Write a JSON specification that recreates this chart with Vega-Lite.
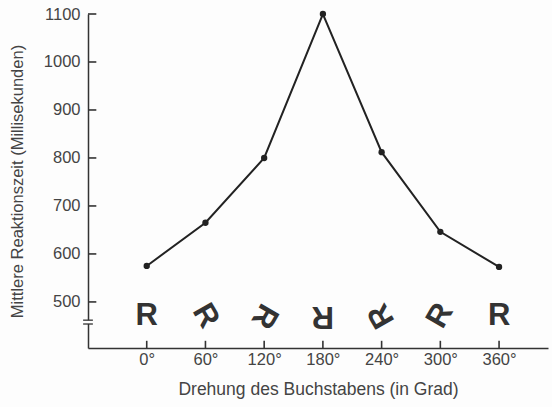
{
  "$schema": "https://vega.github.io/schema/vega-lite/v6.json",
  "autosize": {"type": "none"},
  "padding": {"left": 88, "top": 14, "right": 4, "bottom": 59},
  "width": 460,
  "height": 334,
  "background": "#fdfdfd",
  "config": {
    "view": {"stroke": null},
    "font": "Liberation Sans",
    "axis": {
      "domainColor": "#333333",
      "domainWidth": 1.5,
      "ticks": false,
      "labelColor": "#444444",
      "titleColor": "#444444",
      "labelFont": "Liberation Sans",
      "titleFont": "Liberation Sans",
      "labelFontSize": 16.5,
      "titleFontWeight": "normal",
      "grid": false
    }
  },
  "data": {
    "values": [
      {"grad": 0, "zeit": 575, "buchstabe": "R"},
      {"grad": 60, "zeit": 665, "buchstabe": "R"},
      {"grad": 120, "zeit": 800, "buchstabe": "R"},
      {"grad": 180, "zeit": 1100, "buchstabe": "R"},
      {"grad": 240, "zeit": 812, "buchstabe": "R"},
      {"grad": 300, "zeit": 646, "buchstabe": "R"},
      {"grad": 360, "zeit": 573, "buchstabe": "R"}
    ]
  },
  "layer": [
    {
      "mark": {"type": "line", "color": "#222222", "strokeWidth": 2},
      "encoding": {
        "x": {
          "field": "grad",
          "type": "quantitative",
          "scale": {"domain": [-60, 410], "nice": false, "zero": false},
          "axis": {
            "title": "Drehung des Buchstabens (in Grad)",
            "titleFontSize": 17.5,
            "values": [0, 60, 120, 180, 240, 300, 360],
            "labelExpr": "datum.value + '°'",
            "labelPadding": 3,
            "titlePadding": 13
          }
        },
        "y": {
          "field": "zeit",
          "type": "quantitative",
          "scale": {"domain": [404, 1100], "nice": false, "zero": false},
          "axis": {
            "title": "Mittlere Reaktionszeit (Millisekunden)",
            "titleFontSize": 16.5,
            "format": "d",
            "values": [500, 600, 700, 800, 900, 1000, 1100],
            "labelPadding": 8,
            "titlePadding": 18
          }
        }
      }
    },
    {
      "mark": {"type": "point", "filled": true, "color": "#222222", "size": 40, "opacity": 1},
      "encoding": {
        "x": {"field": "grad", "type": "quantitative"},
        "y": {"field": "zeit", "type": "quantitative"}
      }
    },
    {
      "mark": {"type": "rule", "color": "#333333", "strokeWidth": 1.6},
      "encoding": {
        "x": {"field": "grad", "type": "quantitative"},
        "y": {"datum": 404, "type": "quantitative"},
        "y2": {"datum": 419}
      }
    },
    {
      "data": {"values": [{"t": 500}, {"t": 600}, {"t": 700}, {"t": 800}, {"t": 900}, {"t": 1000}, {"t": 1100}]},
      "mark": {"type": "rule", "color": "#333333", "strokeWidth": 1.6},
      "encoding": {
        "x": {"datum": -60, "type": "quantitative"},
        "x2": {"datum": -51.5},
        "y": {"field": "t", "type": "quantitative"}
      }
    },
    {
      "mark": {"type": "text", "font": "Liberation Sans", "fontWeight": "bold", "fontSize": 31, "color": "#333333", "align": "center", "baseline": "middle"},
      "encoding": {
        "x": {"field": "grad", "type": "quantitative"},
        "y": {"datum": 471, "type": "quantitative"},
        "text": {"field": "buchstabe"},
        "angle": {"field": "grad", "type": "quantitative", "scale": null}
      }
    },
    {
      "data": {"values": [{"a": 1}]},
      "mark": {"type": "rule", "color": "#fdfdfd", "strokeWidth": 4},
      "encoding": {
        "x": {"datum": -60, "type": "quantitative"},
        "y": {"datum": 462, "type": "quantitative"},
        "y2": {"datum": 454}
      }
    },
    {
      "data": {"values": [{"yb": 462}, {"yb": 454}]},
      "mark": {"type": "rule", "color": "#333333", "strokeWidth": 1.3},
      "encoding": {
        "x": {"datum": -65, "type": "quantitative"},
        "x2": {"datum": -55},
        "y": {"field": "yb", "type": "quantitative"}
      }
    }
  ]
}
